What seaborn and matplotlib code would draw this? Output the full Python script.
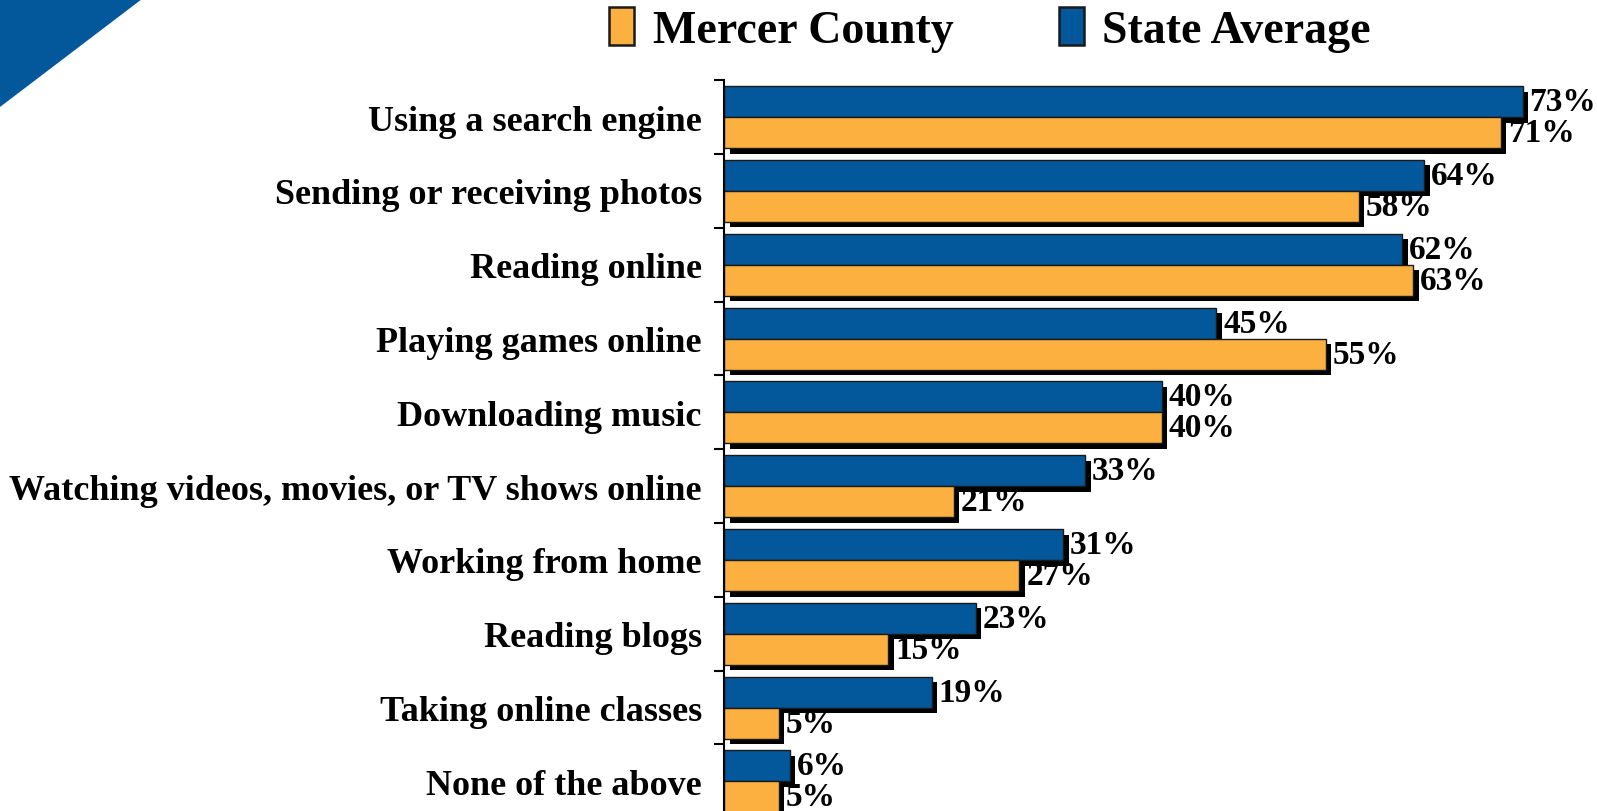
import pandas as pd
import seaborn as sns
import matplotlib.pyplot as plt
import matplotlib.patheffects as pe
from matplotlib.patches import Patch, Polygon

# data
activities = [
    "Using a search engine",
    "Sending or receiving photos",
    "Reading online",
    "Playing games online",
    "Downloading music",
    "Watching videos, movies, or TV shows online",
    "Working from home",
    "Reading blogs",
    "Taking online classes",
    "None of the above",
]
state_avg = [73, 64, 62, 45, 40, 33, 31, 23, 19, 6]
mercer = [71, 58, 63, 55, 40, 21, 27, 15, 5, 5]
areas = ["State Average", "Mercer County"]
colors = {"State Average": "#03589B", "Mercer County": "#FBB040"}

df = pd.concat([
    pd.DataFrame({"activity": activities, "pct": state_avg, "area": areas[0]}),
    pd.DataFrame({"activity": activities, "pct": mercer, "area": areas[1]}),
])

sns.set_theme(style="white")
plt.rcParams["font.family"] = ["Liberation Serif", "DejaVu Serif"]
plt.rcParams["font.weight"] = "bold"
plt.rcParams["text.color"] = "black"
plt.rcParams["ytick.color"] = "black"

fig = plt.figure(figsize=(15.97, 8.12), dpi=100)
ax = fig.add_axes([724 / 1597, -0.009, 1 - 724 / 1597, 0.909])

sns.barplot(data=df, y="activity", x="pct", hue="area", hue_order=areas,
            palette=colors, saturation=1, orient="h", width=0.84,
            edgecolor="#1a1a1a", linewidth=1, legend=False, ax=ax)

# drop shadows behind the bars
shadow = [pe.SimplePatchShadow(offset=(4, -4), shadow_rgbFace="black", alpha=1), pe.Normal()]
for bar in ax.patches:
    bar.set_path_effects(shadow)

for cont in ax.containers:
    ax.bar_label(cont, fmt="%d%%", padding=5, fontsize=24, fontweight="bold", color="black")

ax.set_xlim(0, 79.8)
ax.set_xlabel("")
ax.set_ylabel("")
ax.set_xticks([])
ax.tick_params(axis="y", which="major", length=0, pad=16, labelsize=26, labelcolor="black")
ax.set_yticks([i - 0.5 for i in range(len(activities) + 1)], minor=True)
ax.tick_params(axis="y", which="minor", length=7, width=1.5, color="black", direction="out", left=True)
for lab in ax.get_yticklabels():
    lab.set_fontweight("bold")
for side in ["top", "right", "bottom"]:
    ax.spines[side].set_visible(False)
ax.spines["left"].set_color("black")
ax.spines["left"].set_linewidth(1.5)

# blue corner decoration
fig.patches.append(Polygon([(0, 1), (142 / 1597, 1), (0, 1 - 108 / 812)], closed=True,
                           transform=fig.transFigure, facecolor="#03589B", edgecolor="none"))

handles = [Patch(facecolor=colors["Mercer County"], edgecolor="#1a1a1a", linewidth=1.8),
           Patch(facecolor=colors["State Average"], edgecolor="#1a1a1a", linewidth=1.8)]
fig.legend(handles, ["Mercer County", "State Average"], loc="center",
           bbox_to_anchor=(990 / 1597, 0.962), ncol=2, frameon=False,
           prop={"family": "Liberation Serif", "weight": "bold", "size": 33},
           handlelength=0.55, handleheight=0.9, handletextpad=0.4, columnspacing=2.3)

fig.savefig("out.png", dpi=100)
